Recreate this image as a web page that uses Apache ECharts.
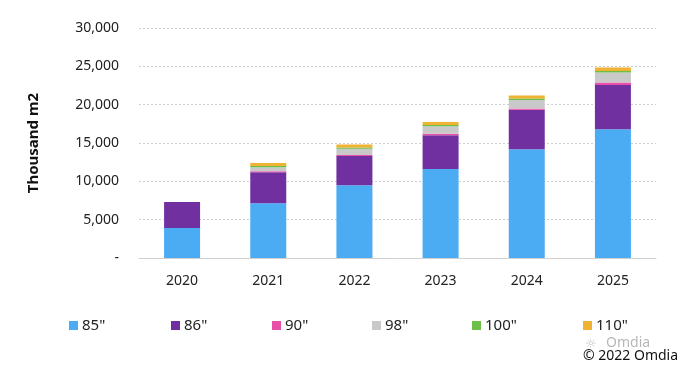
<!DOCTYPE html>
<html>
<head>
<meta charset="utf-8">
<script src="https://cdn.jsdelivr.net/npm/echarts@6/dist/echarts.min.js"></script>
<style>html,body{margin:0;padding:0;background:#fff;}#c{width:686px;height:369px;}</style>
</head>
<body>
<div id="c"></div>
<script>
const categories = ['2020', '2021', '2022', '2023', '2024', '2025'];
const s85 = [3900, 7150, 9500, 11600, 14200, 16800];
const s86 = [3400, 4050, 3800, 4400, 5150, 5750];
const s90 = [0, 100, 150, 200, 150, 350];
const s98 = [0, 550, 800, 1000, 1100, 1300];
const s100 = [0, 150, 150, 150, 200, 200];
const s110 = [0, 400, 400, 400, 400, 450];
const seriesNames = ['85"', '86"', '90"', '98"', '100"', '110"'];
const yTicks = [0, 5000, 10000, 15000, 20000, 25000, 30000];

const colors = ['#4BACF4', '#7030A0', '#E84FA8', '#C9C9C9', '#6CC04A', '#F0B232'];
const font = '"Noto Sans", sans-serif';
const dataSets = [s85, s86, s90, s98, s100, s110];
const legendLeft = [64, 166, 267, 367, 467, 578];

const chart = echarts.init(document.getElementById('c'));
chart.setOption({
  animation: false,
  color: colors,
  grid: { left: 139, right: 30, top: 28, bottom: 111 },
  legend: seriesNames.map((n, i) => ({
    data: [n],
    top: 313,
    left: legendLeft[i],
    itemWidth: 9,
    itemHeight: 9,
    itemGap: 4,
    icon: 'rect',
    textStyle: { fontFamily: font, fontSize: 15, color: '#222', padding: [0, 0, 0, -1] }
  })),
  xAxis: {
    type: 'category',
    data: categories,
    axisLine: { show: true, lineStyle: { color: '#d0d0d0' } },
    axisTick: { show: false },
    axisLabel: { fontFamily: font, fontSize: 14, color: '#222', margin: 16 }
  },
  yAxis: {
    type: 'value',
    min: 0,
    max: 30000,
    interval: 5000,
    name: 'Thousand m2',
    nameLocation: 'middle',
    nameGap: 98,
    nameTextStyle: { fontFamily: font, fontSize: 15, fontWeight: 'bold', color: '#111' },
    axisLine: { show: false },
    axisTick: { show: false },
    splitLine: { lineStyle: { color: '#cfcfcf', type: [2, 2] } },
    axisLabel: {
      fontFamily: font, fontSize: 14, color: '#222', margin: 20,
      formatter: v => yTicks.indexOf(v) === 0 ? '-' : v.toLocaleString('en-US')
    }
  },
  series: seriesNames.map((n, i) => ({
    name: n,
    type: 'bar',
    stack: 'total',
    barWidth: 36,
    data: dataSets[i]
  })),
  graphic: [
    { type: 'text', left: 606, top: 336, style: { text: 'Omdia', font: '14px "Noto Sans", sans-serif', fill: '#b8b8b8' } },
    { type: 'text', left: 585, top: 338, style: { text: '☼', font: '13px "DejaVu Sans", sans-serif', fill: '#c8c8c8' } },
    { type: 'text', left: 583, top: 349, style: { text: '© 2022 Omdia', font: '14px "Noto Sans", sans-serif', fill: '#111' } }
  ]
});
</script>
</body>
</html>
